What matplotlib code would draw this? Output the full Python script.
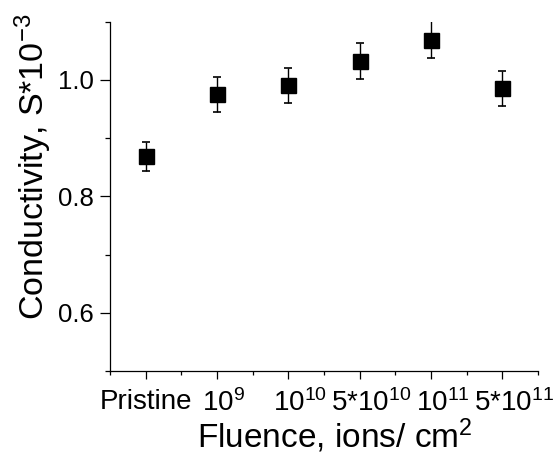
import re
import numpy as np
import matplotlib
matplotlib.use('Agg')
import matplotlib.pyplot as plt
from matplotlib.ticker import MultipleLocator, FormatStrFormatter
from matplotlib.transforms import ScaledTranslation

# 数据
labels = ['Pristine', '10$^{9}$', '10$^{10}$', '5*10$^{10}$', '10$^{11}$', '5*10$^{11}$']
x_pos = [1, 2, 3, 4, 5, 6]
conductivity = [0.869, 0.975, 0.991, 1.033, 1.069, 0.986]
err = [0.025, 0.030, 0.030, 0.031, 0.032, 0.030]

plt.rcParams['font.family'] = ['Liberation Sans', 'DejaVu Sans']
plt.rcParams['mathtext.fontset'] = 'custom'
plt.rcParams['mathtext.rm'] = 'Liberation Sans'
plt.rcParams['mathtext.it'] = 'Liberation Sans'
plt.rcParams['mathtext.default'] = 'regular'

fig = plt.figure(figsize=(5.55, 4.57), dpi=100)
ax = fig.add_axes([0.1982, 0.1882, 0.7712, 0.7643])

ax.errorbar(x_pos, conductivity, yerr=err, fmt='s', color='black',
            markersize=10.8, capsize=2.6, elinewidth=1, capthick=1.2)

ax.set_xlim(0.5, 6.5)
ax.set_ylim(0.5, 1.1)
ax.set_xticks(x_pos)
ax.set_xticklabels(labels)
ax.xaxis.set_minor_locator(MultipleLocator(0.5))
ax.yaxis.set_major_locator(MultipleLocator(0.2))
ax.yaxis.set_minor_locator(MultipleLocator(0.1))
ax.yaxis.set_major_formatter(FormatStrFormatter('%.1f'))

for s in ['top', 'right']:
    ax.spines[s].set_visible(False)
for s in ['left', 'bottom']:
    ax.spines[s].set_linewidth(0.9)

ax.tick_params(axis='both', which='major', width=0.9, direction='out')
ax.tick_params(axis='y', which='major', labelsize=18.5, length=7.2, pad=4.3)
ax.tick_params(axis='y', which='minor', length=3.6, width=0.9)
ax.tick_params(axis='x', which='major', labelsize=20, length=6, pad=7)
ax.tick_params(axis='x', which='minor', length=3, width=0.9)

ax.set_xlabel('Fluence, ions/ cm$^{2}$', fontsize=24, labelpad=0)
ax.set_ylabel('Conductivity, S*10$^{-3}$', fontsize=24.5, labelpad=3)
ax.xaxis.label.set_x(0.526)
ax.yaxis.label.set_y(0.585)

# 上标悬在右侧: 以主体文字居中
fig.canvas.draw()
renderer = fig.canvas.get_renderer()
for lab in ax.get_xticklabels():
    txt = lab.get_text()
    base = re.sub(r'\$\^\{.*?\}\$', '', txt)
    w_full = lab.get_window_extent(renderer).width
    tmp = fig.text(0, 0, base, fontsize=lab.get_fontsize())
    w_base = tmp.get_window_extent(renderer).width
    tmp.remove()
    dx = (w_full - w_base) / 2
    lab.set_transform(lab.get_transform() + ScaledTranslation(dx / fig.dpi, 0, fig.dpi_scale_trans))

fig.savefig('out.png', dpi=100)
